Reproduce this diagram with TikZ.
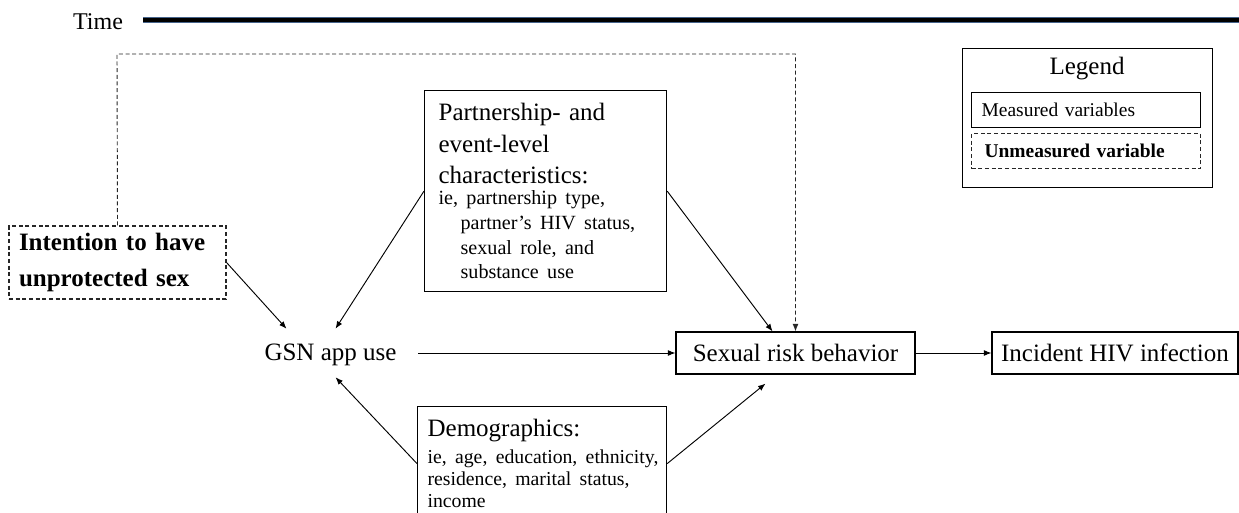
\documentclass[tikz,border=0pt]{standalone}
\usepackage{fontspec}
\setmainfont{Liberation Serif}
\usepackage{tikz}
\usetikzlibrary{arrows.meta,positioning,calc}
\newlength\pix
\setlength\pix{0.75pt}
\newcommand\bigfont{\fontsize{18.75}{23.6}\selectfont}
\newcommand\smallfont{\fontsize{15.1}{18.5}\selectfont}
\newcommand\legfont{\fontsize{14.6}{17}\selectfont}
\frenchspacing

\begin{document}
\begin{tikzpicture}[x=0.75pt,y=-0.75pt,
  measured/.style={draw, line width=0.9pt, inner sep=0pt},
  unmeasured/.style={draw=black!85, line width=0.8pt, dash pattern=on 3pt off 2pt, inner sep=0pt},
  link/.style={-{Latex[length=5.6pt,width=4.4pt]}, line width=0.7pt},
  dashlink/.style={link, draw=black!85, dash pattern=on 3pt off 2pt},
  font=\bigfont]

\useasboundingbox (0,0) rectangle (1239,513);
\clip (0,0) rectangle (1239,513);

% time axis
\node[anchor=base, font=\fontsize{18}{20}\selectfont] (timelbl) at (98,30) {Time};
\coordinate (timestart) at (143,20);
\coordinate (timeend) at (1239,20);
\draw[line width=3.9pt, color={rgb,255:red,70;green,100;blue,140}] (timestart) -- (timeend);
\draw[line width=2.7pt, black] (timestart) -- (timeend);

% variables
\node[unmeasured, minimum height=73\pix, inner xsep=10\pix, text width=197\pix] (intent) at (117.5,262.5)
  {{\bigfont\bfseries\raggedright\vspace*{4pt}Intention to have\\ unprotected sex\par}};
\node[measured, anchor=north west, minimum height=201\pix, inner xsep=14\pix, text width=214\pix] (partner) at (424,90) {%
  {\bigfont\raggedright Partnership- and\\ event-level\\ characteristics:\par}\vspace{-2.5pt}%
  {\smallfont\raggedright ie, partnership type,\\ \hspace*{22\pix}partner’s HIV status,\\ \hspace*{22\pix}sexual role, and\\ \hspace*{22\pix}substance use\par}};
\node[measured, anchor=north west, minimum height=114\pix, inner xsep=10\pix, text width=229\pix] (demo) at (417,406) {%
  {\bigfont\raggedright Demographics:\par}\vspace{4pt}%
  {\fontsize{14.8}{16.5}\selectfont\raggedright \mbox{ie, age, education, ethnicity,}\\ residence, marital status,\\ income\par}};
\node[minimum width=175\pix, minimum height=48\pix, inner sep=0pt, text depth=2\pix] (gsn) at (330.5,353) {GSN app use};
\node[measured, minimum width=239\pix, minimum height=42\pix] (sexual) at (795.5,353) {Sexual risk behavior};
\node[measured, minimum width=246\pix, minimum height=42\pix] (incident) at (1115,353) {Incident HIV infection};

% legend
\node[measured, anchor=north west, minimum width=250\pix, minimum height=139\pix] (legend) at (962,48) {};
\node[anchor=base] (legtitle) at (1087,75) {Legend};
\node[measured, anchor=north west, minimum height=35\pix, inner xsep=10\pix, text width=209\pix, font=\legfont] (legmeas) at (971,92) {Measured variables};
\node[unmeasured, anchor=north west, minimum height=35\pix, inner xsep=13\pix, text width=203\pix, font=\legfont\bfseries] (legunmeas) at (971,133) {Unmeasured variable};

% connectors
\coordinate (dashtop) at (117,54);
\draw[dashlink] (intent.north) -- (dashtop) -| (sexual.north);
\draw[link] (intent.east) -- ([shift={(-44,0)}]gsn.north);
\draw[link] (partner.west) -- ([shift={(5,0)}]gsn.north);
\draw[link] (demo.west) -- ([shift={(5,0)}]gsn.south);
\draw[link] (partner.east) -- ([shift={(-23,0)}]sexual.north);
\draw[link] (demo.east) -- ([shift={(-30,9)}]sexual.south);
\draw[link] (gsn.east) -- (sexual.west);
\draw[link] (sexual.east) -- (incident.west);
\end{tikzpicture}
\end{document}
